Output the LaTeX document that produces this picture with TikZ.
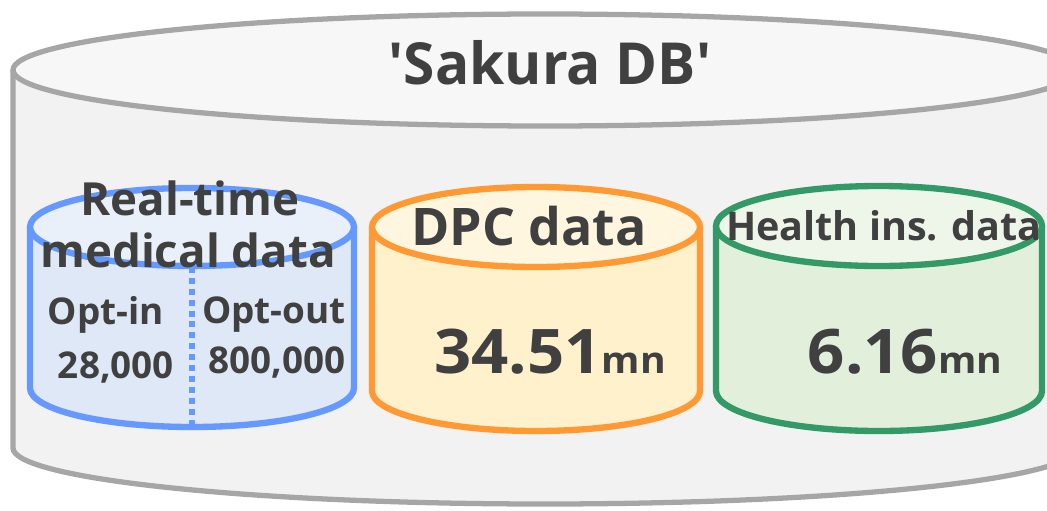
\documentclass[tikz,border=0pt]{standalone}
\usepackage{fontspec}
\setmainfont{Open Sans}
\usepackage{tikz}
\definecolor{txt}{HTML}{404040}
\definecolor{dbline}{HTML}{A6A6A6}
\definecolor{dbbody}{HTML}{F2F2F2}
\definecolor{dbtop}{HTML}{F7F7F7}
\definecolor{rtline}{HTML}{6699FF}
\definecolor{rtbody}{HTML}{DEE8F6}
\definecolor{rttop}{HTML}{E9F0FA}
\definecolor{dpcline}{HTML}{FF9933}
\definecolor{dpcbody}{HTML}{FFF1CC}
\definecolor{dpctop}{HTML}{FFF6DF}
\definecolor{hiline}{HTML}{339966}
\definecolor{hibody}{HTML}{E2EFDA}
\definecolor{hitop}{HTML}{EEF6EA}
\tikzstyle{lbl} = [inner sep=0pt, anchor=base, text=txt, font=\bfseries]
\tikzstyle{dbtitle} = [lbl, xscale=0.98, font=\fontsize{33}{38}\selectfont\bfseries]
\tikzstyle{dbname} = [lbl, font=\fontsize{26}{30}\selectfont\bfseries]
\tikzstyle{dbsub} = [lbl, font=\fontsize{21}{24}\selectfont\bfseries]
\tikzstyle{dbbig} = [lbl, xscale=1.06, font=\fontsize{35}{40}\selectfont\bfseries]
% cylinder: centre x, top y, bottom y, x radius, y radius, line, body, top
\newcommand{\drum}[8]{%
	\fill[#7] (#1-#4,#2) -- (#1-#4,#3)
		arc[start angle=180, end angle=360, x radius=#4, y radius=#5]
		-- (#1+#4,#2) -- cycle;
	\draw[#6] (#1-#4,#2) -- (#1-#4,#3)
		arc[start angle=180, end angle=360, x radius=#4, y radius=#5]
		-- (#1+#4,#2);
	\draw[#6, fill=#8] (#1,#2) ellipse[x radius=#4, y radius=#5];
}

\begin{document}
\begin{tikzpicture}[x=0.02cm, y=0.02cm]
	\useasboundingbox (0,0) rectangle (1047,-510);
	\clip (0,0) rectangle (1047,-510);

	% outer database
	\drum{545}{-70}{-448}{532}{56}{dbline, line width=3pt}{dbbody}{dbtop}
	\node[dbtitle] (sakura) at (550,-85) {\textquotesingle Sakura DB\textquotesingle};

	% real-time medical data
	\drum{192}{-227}{-388}{162}{39}{rtline, line width=3.6pt}{rtbody}{rttop}
	\coordinate (split top) at (192,-267);
	\coordinate (split bottom) at (192,-428);
	\draw[rtline, line width=3.4pt, dash pattern=on 3.4pt off 2.8pt]
		(split top) -- (split bottom);
	\node[dbname] (realtime) at (190,-215) {Real-time};
	\node[dbname] (medical) at (188,-267) {medical data};
	\node[dbsub] (optin) at (106,-324) {Opt-in};
	\node[dbsub] (optinnum) at (116,-378) {28,000};
	\node[dbsub] (optout) at (274,-323) {Opt-out};
	\node[dbsub] (optoutnum) at (277,-373) {800,000};

	% DPC data
	\drum{536}{-227}{-391}{164}{40}{dpcline, line width=3.6pt}{dpcbody}{dpctop}
	\node[dbname, font=\fontsize{29.5}{34}\selectfont\bfseries] (dpc) at (529,-245) {DPC data};
	\node[dbbig] (dpcnum) at (550,-373) {34.51{\fontsize{21}{24}\selectfont mn}};

	% health insurance data
	\drum{879}{-226}{-391}{163}{40}{hiline, line width=3.6pt}{hibody}{hitop}
	\node[dbname, font=\fontsize{22.5}{26}\selectfont\bfseries] (health) at (884,-240) {Health ins. data};
	\node[dbbig] (healthnum) at (905,-373) {6.16{\fontsize{21}{24}\selectfont mn}};
\end{tikzpicture}
\end{document}
